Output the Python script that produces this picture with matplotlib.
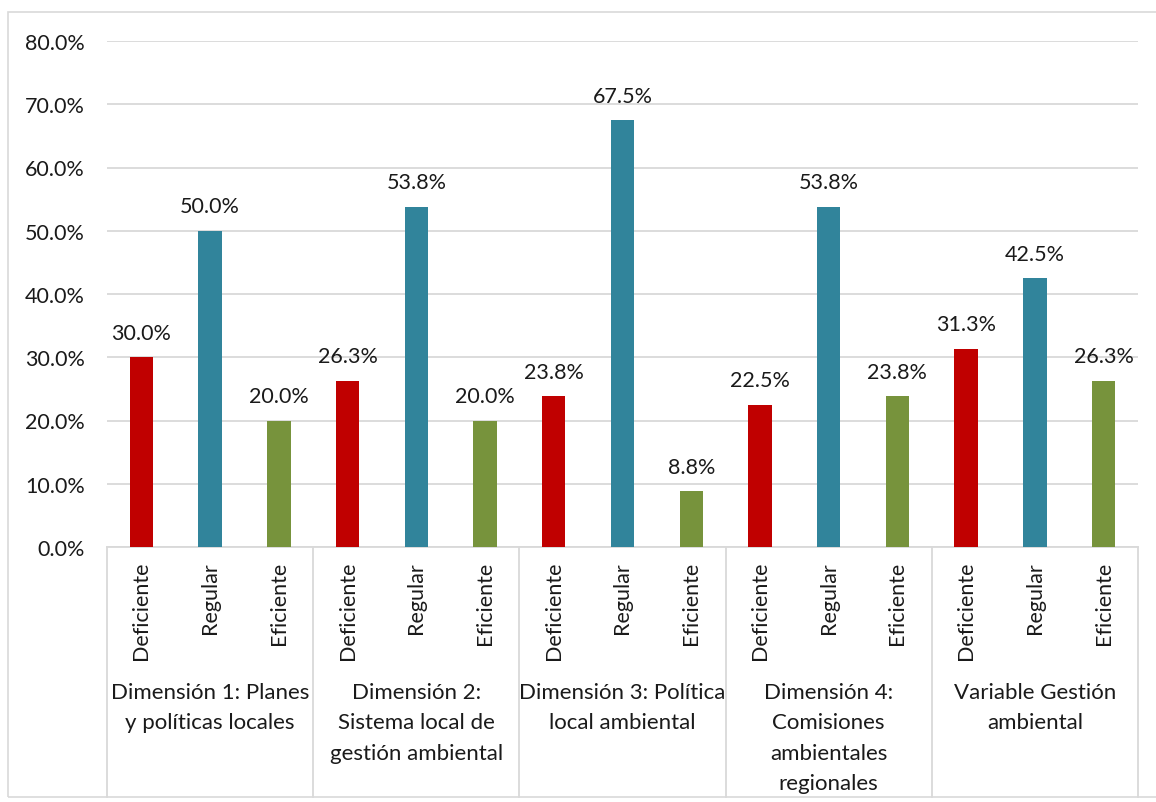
import matplotlib.pyplot as plt
from matplotlib.patches import Rectangle
import matplotlib.transforms as mtransforms

plt.rcParams['font.family'] = ['Lato', 'DejaVu Sans']

# Datos
grupos = ["Dimensión 1: Planes\ny políticas locales",
          "Dimensión 2:\nSistema local de\ngestión ambiental",
          "Dimensión 3: Política\nlocal ambiental",
          "Dimensión 4:\nComisiones\nambientales\nregionales",
          "Variable Gestión\nambiental"]
niveles = ["Deficiente", "Regular", "Eficiente"]
deficiente = [30.0, 26.3, 23.8, 22.5, 31.3]
regular = [50.0, 53.8, 67.5, 53.8, 42.5]
eficiente = [20.0, 20.0, 8.8, 23.8, 26.3]
colores = ["#C00000", "#31849B", "#77933C"]

W, H = 1156, 803
fig = plt.figure(figsize=(W / 100, H / 100), dpi=100)
fig.patches.append(Rectangle((8 / W, 1 - 798 / H), 1.2, (798 - 13) / H,
                             transform=fig.transFigure, fill=False,
                             edgecolor="#D9D9D9", linewidth=1.2))

x0, x1 = 107, 1138
y_top, y_bot = 42, 548
ax = fig.add_axes([x0 / W, 1 - y_bot / H, (x1 - x0) / W, (y_bot - y_top) / H])

series = [deficiente, regular, eficiente]
for g in range(len(grupos)):
    for k, vals in enumerate(series):
        xc = g * 3 + k + 0.5
        v = vals[g]
        ax.bar(xc, v, width=0.34, color=colores[k], zorder=3)
        ax.text(xc, v + 2.3, f"{v:.1f}%", ha="center", va="bottom",
                fontsize=15.5, color="#1a1a1a")

ax.set_xlim(0, 15)
ax.set_ylim(0, 80)
ax.set_yticks(range(0, 81, 10))
ax.set_yticklabels([f"{t:.1f}%" for t in range(0, 81, 10)], fontsize=15.5, color="#1a1a1a")
ax.tick_params(axis="y", length=0, pad=16)
ax.set_xticks([])
ax.grid(axis="y", color="#D9D9D9", linewidth=1.3, zorder=0)
for s in ["top", "right", "left"]:
    ax.spines[s].set_visible(False)
ax.spines["bottom"].set_color("#D9D9D9")
ax.spines["bottom"].set_linewidth(1.3)

trans = mtransforms.blended_transform_factory(ax.transData, ax.transAxes)
px = 1.0 / (y_bot - y_top)  # un pixel en coordenadas de ejes
sep_bottom = -(798 - y_bot) * px
for b in range(len(grupos) + 1):
    ax.plot([b * 3, b * 3], [0, sep_bottom], transform=trans, color="#D9D9D9",
            linewidth=1.3, clip_on=False)

for g in range(len(grupos)):
    for k, nombre in enumerate(niveles):
        ax.text(g * 3 + k + 0.5, -14 * px, nombre, rotation=90, ha="center", va="top",
                fontsize=15.5, color="#1a1a1a", transform=trans)
    ax.text(g * 3 + 1.5, -(683 - y_bot) * px, grupos[g], ha="center", va="top",
            fontsize=16, color="#1a1a1a", transform=trans, linespacing=1.65)

fig.savefig("out.png", dpi=100)
